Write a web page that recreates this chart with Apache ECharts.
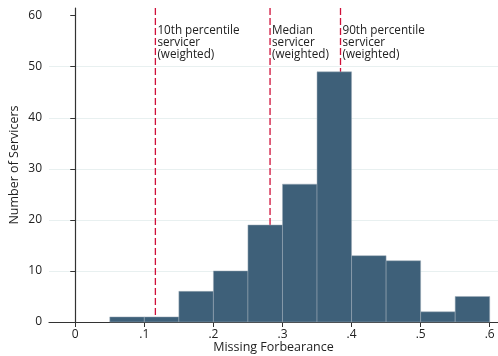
<!DOCTYPE html>
<html>
<head>
<meta charset="utf-8">
<script src="https://cdn.jsdelivr.net/npm/echarts@6/dist/echarts.min.js"></script>
<style>html,body{margin:0;padding:0;background:#fff}#c{width:498px;height:356px}</style>
</head>
<body>
<div id="c"></div>
<script>
// Histogram bins (left edges) and counts
var binLeft = [0.05, 0.10, 0.15, 0.20, 0.25, 0.30, 0.35, 0.40, 0.45, 0.50, 0.55];
var binWidth = 0.05;
var counts = [1, 1, 6, 10, 19, 27, 49, 13, 12, 2, 5];
// Reference lines
var refX = [0.116, 0.282, 0.384];
var refLabels = ['10th percentile\nservicer\n(weighted)', 'Median\nservicer\n(weighted)', '90th percentile\nservicer\n(weighted)'];
// Axis ticks
var xTickValues = [0, 0.1, 0.2, 0.3, 0.4, 0.5, 0.6];
var xTickLabels = ['0', '.1', '.2', '.3', '.4', '.5', '.6'];
var yTickValues = [0, 10, 20, 30, 40, 50, 60];
var gridValues = [10, 20, 30, 40, 50];

var FONT = 'Open Sans';
var chart = echarts.init(document.getElementById('c'), null, {renderer: 'canvas'});

var barData = binLeft.map(function (l, i) { return [l, l + binWidth, counts[i]]; });
var refData = refX.map(function (x, i) { return [x, refLabels[i]]; });

chart.setOption({
  animation: false,
  backgroundColor: '#ffffff',
  grid: {left: 49, top: 8, right: 0, bottom: 34, containLabel: false, outerBoundsMode: 'none'},
  xAxis: {
    type: 'value', min: -0.038, max: 0.612,
    name: 'Missing Forbearance', nameLocation: 'middle', nameGap: 19, nameMoveOverlap: false,
    nameTextStyle: {fontFamily: FONT, fontSize: 12.5, color: '#222'},
    axisLine: {show: true, lineStyle: {color: '#333', width: 1.2}},
    axisTick: {show: true, length: 5, lineStyle: {color: '#333'}, customValues: xTickValues},
    axisLabel: {customValues: xTickValues, fontFamily: FONT, fontSize: 12, color: '#222', margin: 7,
      formatter: function (v) { var i = xTickValues.findIndex(function (t) { return Math.abs(t - v) < 1e-9; }); return i >= 0 ? xTickLabels[i] : ''; }},
    splitLine: {show: false}
  },
  yAxis: {
    type: 'value', min: 0, max: 61.5,
    name: 'Number of Servicers', nameLocation: 'middle', nameGap: 28, nameMoveOverlap: false,
    nameTextStyle: {fontFamily: FONT, fontSize: 12.5, color: '#222'},
    axisLine: {show: true, lineStyle: {color: '#333', width: 1.2}},
    axisTick: {show: true, length: 5, lineStyle: {color: '#333'}, customValues: yTickValues},
    axisLabel: {customValues: yTickValues, fontFamily: FONT, fontSize: 12, color: '#222', margin: 7},
    splitLine: {show: false}
  },
  series: [
    {
      type: 'line', data: [], silent: true, z: 0,
      markLine: {
        silent: true, symbol: 'none', label: {show: false}, z: 0,
        lineStyle: {color: '#e8f0f0', width: 1, type: 'solid'},
        data: gridValues.map(function (v) { return {yAxis: v}; })
      }
    },
    {
      type: 'custom',
      data: refData,
      encode: {x: 0},
      renderItem: function (params, api) {
        var x = api.value(0);
        var top = api.coord([x, 61.5]);
        var bot = api.coord([x, 0]);
        var t = api.coord([x, 57.1]);
        return {
          type: 'group',
          children: [
            {type: 'line', shape: {x1: top[0], y1: top[1], x2: bot[0], y2: bot[1]},
             style: {stroke: '#d0103a', lineWidth: 1.3, lineDash: [7, 3]}},
            {type: 'text', x: t[0] + 2, y: t[1] - 6,
             style: {text: refLabels[params.dataIndex], fill: '#222', font: '11.7px "Open Sans"', lineHeight: 12, align: 'left', verticalAlign: 'top'}}
          ]
        };
      },
      z: 1
    },
    {
      type: 'custom',
      data: barData,
      encode: {x: [0, 1], y: 2},
      renderItem: function (params, api) {
        var p0 = api.coord([api.value(0), 0]);
        var p1 = api.coord([api.value(1), api.value(2)]);
        return {
          type: 'rect',
          shape: {x: p0[0], y: p1[1], width: p1[0] - p0[0], height: p0[1] - p1[1]},
          style: {fill: '#3e6079', stroke: '#9fadb8', lineWidth: 0.5}
        };
      },
      z: 2
    }
  ]
});
</script>
</body>
</html>
